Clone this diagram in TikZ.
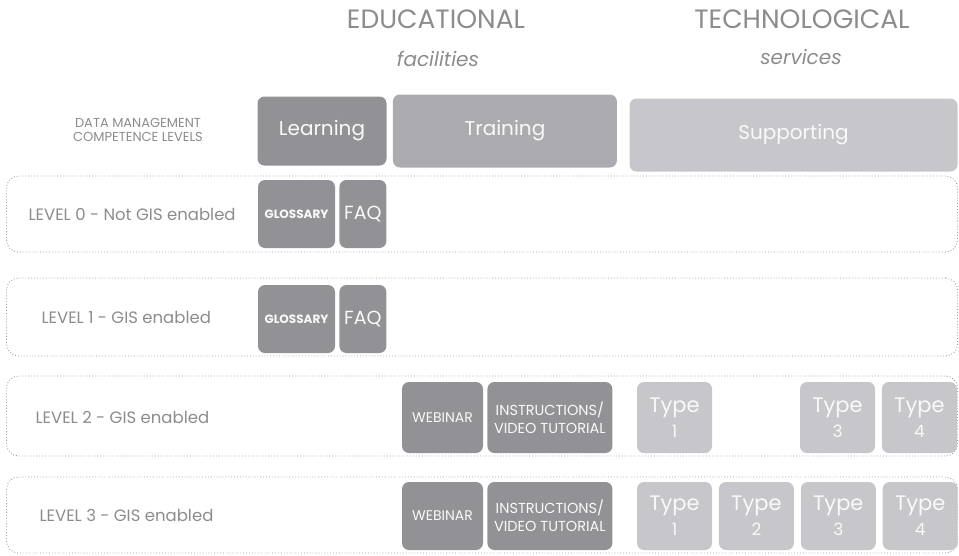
\documentclass[tikz,border=0pt]{standalone}
\usepackage{fontspec}
\setmainfont{Poppins}
\usepackage{tikz}
\usetikzlibrary{positioning}
\definecolor{darktile}{RGB}{146,146,150}
\definecolor{midtile}{RGB}{172,172,176}
\definecolor{lighttile}{RGB}{198,198,203}
\definecolor{headtext}{RGB}{140,140,140}
\tikzset{
  tile/.style = {rounded corners=7pt, inner sep=0pt, align=center,
    text=white!95!gray},
  dk/.style = {tile, fill=darktile},
  md/.style = {tile, fill=midtile},
  lt/.style = {tile, fill=lighttile},
  lvl/.style = {draw=gray!75, dotted, line width=0.9pt, rounded corners=12pt,
    minimum width=951pt, inner sep=0pt},
  lvltext/.style = {anchor=west, text=headtext, font=\fontsize{16.5}{18}\selectfont},
  head/.style = {text=headtext, font=\fontsize{26.5}{28}\selectfont},
  sub/.style = {text=headtext, font=\itshape\fontsize{20}{22}\selectfont},
  gloss/.style = {dk, minimum width=77pt, font=\bfseries\fontsize{12}{13}\selectfont},
  faq/.style = {dk, minimum width=47pt, font=\fontsize{19}{20}\selectfont},
  web/.style = {dk, minimum width=81pt, font=\fontsize{14}{15}\selectfont},
  instr/.style = {dk, minimum width=125pt, font=\fontsize{14.5}{18}\selectfont},
  kind/.style = {lt, minimum width=75pt, font=\fontsize{21}{25}\selectfont}
}
\newcommand{\typebox}[1]{Type\\{\fontsize{17}{18}\selectfont #1}}

\begin{document}
\begin{tikzpicture}[x=1pt, y=-1pt]
\useasboundingbox (0,0) rectangle (959,555);

% column titles
\node [head] (edu) at (436,19) {EDUCATIONAL};
\node [sub] (fac) at (438,59) {facilities};
\node [head] (tech) at (802,19) {TECHNOLOGICAL};
\node [sub] (serv) at (801,57) {services};

\node [text=headtext, align=center, font=\fontsize{13}{14}\selectfont] (dm) at (138,130)
  {DATA MANAGEMENT\\COMPETENCE LEVELS};
\node [dk, minimum width=129pt, minimum height=69pt, font=\fontsize{20}{22}\selectfont]
  (learn) at (322,131) {Learning};
\node [md, minimum width=224pt, minimum height=73pt, font=\fontsize{20}{22}\selectfont,
  right=6pt of learn] (train) {Training};
\node [lt, minimum width=328pt, minimum height=73pt, font=\fontsize{20}{22}\selectfont]
  (supp) at (793.5,135) {Supporting};

% levels
\node [lvl, minimum height=76pt] (lv0) at (482,214) {};
\node [lvl, minimum height=78pt] (lv1) at (482,317) {};
\node [lvl, minimum height=80pt] (lv2) at (482,416) {};
\node [lvl, minimum height=76pt] (lv3) at (482,515) {};

\node [lvltext] (l0) at (25,214) {LEVEL 0 - Not GIS enabled};
\node [lvltext] (l1) at (38,317) {LEVEL 1 - GIS enabled};
\node [lvltext] (l2) at (32,417) {LEVEL 2 - GIS enabled};
\node [lvltext] (l3) at (36,515) {LEVEL 3 - GIS enabled};

% level 0
\node [gloss, minimum height=68pt] (g0) at (296.5,214) {GLOSSARY};
\node [faq, minimum height=68pt, right=4pt of g0] (f0) {FAQ};

% level 1
\node [gloss, minimum height=68pt] (g1) at (296.5,319) {GLOSSARY};
\node [faq, minimum height=68pt, right=4pt of g1] (f1) {FAQ};

% level 2
\node [web, minimum height=71pt] (w2) at (442.5,417.5) {WEBINAR};
\node [instr, minimum height=71pt, right=4pt of w2] (i2) {INSTRUCTIONS/\\VIDEO TUTORIAL};
\node [kind, minimum height=71pt] (t21) at (674.5,417.5) {\typebox{1}};
\node [kind, minimum height=71pt] (t23) at (837.5,417.5) {\typebox{3}};
\node [kind, minimum height=71pt, right=6.5pt of t23] (t24) {\typebox{4}};

% level 3
\node [web, minimum height=68pt] (w3) at (442.5,516) {WEBINAR};
\node [instr, minimum height=68pt, right=4pt of w3] (i3) {INSTRUCTIONS/\\VIDEO TUTORIAL};
\node [kind, minimum height=68pt] (t31) at (674.5,516) {\typebox{1}};
\node [kind, minimum height=68pt, right=6.5pt of t31] (t32) {\typebox{2}};
\node [kind, minimum height=68pt, right=6.5pt of t32] (t33) {\typebox{3}};
\node [kind, minimum height=68pt, right=6.5pt of t33] (t34) {\typebox{4}};
\end{tikzpicture}
\end{document}
